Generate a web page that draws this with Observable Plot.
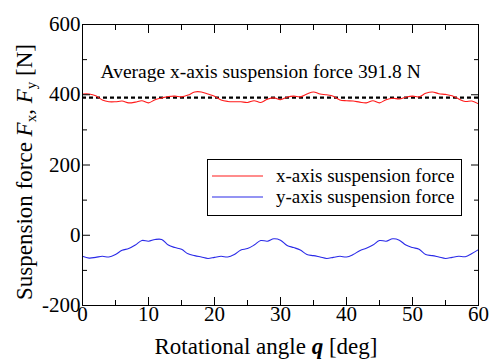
<!DOCTYPE html>
<html><head><meta charset="utf-8">
<script src="https://cdn.jsdelivr.net/npm/d3@7"></script>
<script src="https://cdn.jsdelivr.net/npm/@observablehq/plot@0.6"></script>
<style>
body{margin:0;background:#fff}
svg text, svg tspan{font-family:"Liberation Serif","Times New Roman",serif !important}
</style>
</head><body><div id="chart"></div>
<script>
const angles = [0,1,2,3,4,5,6,7,8,9,10,11,12,13,14,15,16,17,18,19,20,21,22,23,24,25,26,27,28,29,30,
  31,32,33,34,35,36,37,38,39,40,41,42,43,44,45,46,47,48,49,50,51,52,53,54,55,56,57,58,59,60];
const fxValues = [402,402,397,385,380,380,382,377,379,383,377,386,391,395,396,394,399,408,408,402,396,
  385,381,380,380,378,383,378,387,391,386,393,396,394,402,408,402,400,396,385,383,382,379,377,383,377,
  386,390,388,393,396,394,404,408,403,401,397,388,381,382,374];
const fyValues = [-60,-65,-63,-60,-62,-55,-43,-38,-28,-15,-17,-12,-12,-28,-35,-40,-53,-58,-62,-66,-63,
  -60,-62,-55,-42,-38,-28,-15,-17,-10,-14,-29,-35,-42,-55,-58,-62,-66,-63,-60,-62,-55,-44,-37,-28,-15,
  -17,-10,-14,-28,-35,-40,-55,-58,-62,-66,-63,-60,-61,-52,-41];
const averageFx = [391.8];
const seriesNames = ["x-axis suspension force","y-axis suspension force"];
const seriesColors = ["#ff1a1a","#2a2ae8"];
const annotation = "Average x-axis suspension force 391.8 N";
const xMajor = [0,10,20,30,40,50,60];
const xMinor = [5,15,25,35,45,55];
const yMajor = [-200,0,200,400,600];
const yMinor = [-100,100,300,500];

const dataX = angles.map((a,i)=>({a, v: fxValues[i]}));
const dataY = angles.map((a,i)=>({a, v: fyValues[i]}));

const W = 491, H = 361;
const plot = Plot.plot({
  width: W, height: H,
  marginLeft: 82, marginRight: 13, marginTop: 24, marginBottom: 56,
  x: {domain: [0, 60]},
  y: {domain: [-200, 600]},
  style: {color: "black", background: "white"},
  marks: [
    Plot.ruleY(averageFx, {stroke: "black", strokeWidth: 2.2, strokeDasharray: "4,3"}),
    Plot.line(dataX, {x: "a", y: "v", stroke: seriesColors[0], strokeWidth: 1.1, curve: "catmull-rom"}),
    Plot.line(dataY, {x: "a", y: "v", stroke: seriesColors[1], strokeWidth: 1.1, curve: "catmull-rom"}),
    Plot.text([annotation], {frameAnchor: "top-left", textAnchor: "start", lineAnchor: "middle", dx: 18, dy: 47, fontSize: 19.5, fill: "black"}),
    Plot.frame({stroke: "black", strokeWidth: 1}),
    Plot.axisX(xMajor, {anchor: "bottom", tickSize: -8, text: null, label: null}),
    Plot.axisX(xMinor, {anchor: "bottom", tickSize: -5, text: null, label: null}),
    Plot.axisX(xMajor, {anchor: "top", tickSize: -8, text: null, label: null}),
    Plot.axisX(xMinor, {anchor: "top", tickSize: -5, text: null, label: null}),
    Plot.axisY(yMajor, {anchor: "left", tickSize: -8, text: null, label: null}),
    Plot.axisY(yMinor, {anchor: "left", tickSize: -5, text: null, label: null}),
    Plot.axisY(yMajor, {anchor: "right", tickSize: -8, text: null, label: null}),
    Plot.axisY(yMinor, {anchor: "right", tickSize: -5, text: null, label: null}),
    Plot.axisX(xMajor, {anchor: "bottom", tickSize: 0, tickPadding: 1, fontSize: 21, label: null, tickFormat: d => String(d)}),
    Plot.axisY(yMajor, {anchor: "left", tickSize: 0, tickPadding: 2, fontSize: 21, label: null, tickFormat: d => String(d)})
  ]
});
document.getElementById("chart").appendChild(plot);

const svg = d3.select(plot);
// Y axis title
const yt = svg.append("text")
  .attr("transform", "translate(32,172) rotate(-90)")
  .attr("text-anchor", "middle")
  .attr("font-size", 23)
  .attr("fill", "black");
yt.append("tspan").text("Suspension force ");
yt.append("tspan").attr("font-style", "italic").text("F");
yt.append("tspan").attr("font-size", 15).attr("dy", 4).text("x");
yt.append("tspan").attr("dy", -4).text(", ");
yt.append("tspan").attr("font-style", "italic").text("F");
yt.append("tspan").attr("font-size", 15).attr("dy", 4).text("y");
yt.append("tspan").attr("dy", -4).text(" [N]");

// X axis title
const xt = svg.append("text")
  .attr("x", 266).attr("y", 354)
  .attr("text-anchor", "middle")
  .attr("font-size", 23)
  .attr("fill", "black");
xt.append("tspan").text("Rotational angle ");
xt.append("tspan").attr("font-style", "italic").attr("font-weight", "bold").text("q");
xt.append("tspan").text(" [deg]");

// Legend
const lg = svg.append("g");
lg.append("rect").attr("x", 207.5).attr("y", 159.5).attr("width", 254).attr("height", 56)
  .attr("fill", "white").attr("stroke", "black").attr("stroke-width", 1);
seriesNames.forEach((name, i) => {
  const y = 176 + i * 21;
  lg.append("line").attr("x1", 212).attr("x2", 263).attr("y1", y).attr("y2", y)
    .attr("stroke", seriesColors[i]).attr("stroke-width", 1.1);
  lg.append("text").attr("x", 276).attr("y", y + 6)
    .attr("text-anchor", "start")
    .attr("font-size", 19).attr("fill", "black").text(name);
});
</script>
</body></html>
